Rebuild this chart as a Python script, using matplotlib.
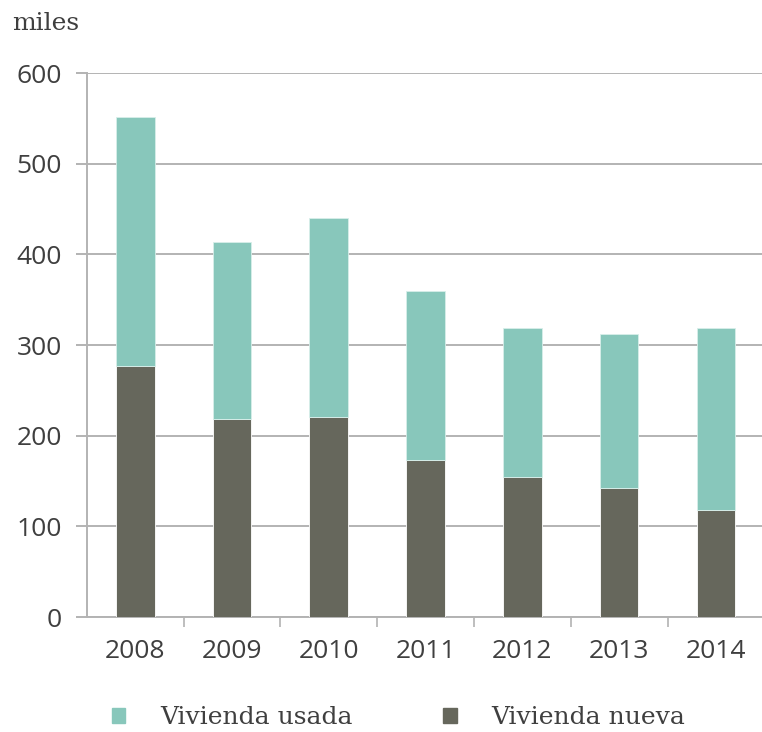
import matplotlib.pyplot as plt
import numpy as np
from matplotlib.patches import Patch

years = ["2008", "2009", "2010", "2011", "2012", "2013", "2014"]
nueva = [277, 218, 221, 173, 155, 142, 118]
total = [552, 414, 440, 360, 319, 312, 319]
usada = [t - n for t, n in zip(total, nueva)]

TEAL = "#88c7bb"
DARK = "#66675c"
GRID = "#b3b3b3"
TEXT = "#3f3f3f"


def main() -> None:
    plt.rcParams["font.family"] = ["Open Sans", "DejaVu Sans"]
    fig = plt.figure(figsize=(7.62, 7.32), dpi=100)
    ax = fig.add_axes([0.114, 0.157, 0.889, 0.743])

    x = np.arange(len(years))
    ax.bar(x, nueva, width=0.4, color=DARK, edgecolor="white", linewidth=0.6, zorder=3)
    ax.bar(x, usada, width=0.4, bottom=nueva, color=TEAL, edgecolor="#d8efea",
           linewidth=0.6, zorder=3)

    ax.set_xlim(-0.5, len(years) - 0.5)
    ax.set_ylim(0, 600)
    ax.set_yticks(range(0, 601, 100))
    ax.yaxis.grid(True, color=GRID, linewidth=1.4, zorder=0)

    ax.set_xticks(x)
    ax.set_xticklabels(years)
    ax.set_xticks(np.arange(0.5, len(years) - 0.5), minor=True)
    ax.tick_params(axis="x", which="major", length=0, pad=16, labelsize=19, labelcolor=TEXT)
    ax.tick_params(axis="x", which="minor", length=7, width=1.2, color=GRID)
    ax.tick_params(axis="y", length=8, width=1.4, color=GRID, pad=10, labelsize=19,
                   labelcolor=TEXT)

    for side in ["top", "right"]:
        ax.spines[side].set_visible(False)
    for side in ["left", "bottom"]:
        ax.spines[side].set_color(GRID)
        ax.spines[side].set_linewidth(1.4)

    fig.text(12 / 762, 1 - 24 / 732, "miles", family="DejaVu Serif", fontsize=18,
             color=TEXT, va="center", ha="left")

    handles = [Patch(color=TEAL), Patch(color=DARK)]
    fig.legend(handles, ["Vivienda usada", "Vivienda nueva"], loc="center",
               bbox_to_anchor=(0.523, 1 - 718 / 732), ncol=2, frameon=False,
               prop={"family": "DejaVu Serif", "size": 18}, labelcolor=TEXT,
               handlelength=0.55, handleheight=0.55, handletextpad=1.4, columnspacing=3.6)

    fig.savefig("out.png", dpi=100)
    plt.close(fig)


if __name__ == "__main__":
    main()
